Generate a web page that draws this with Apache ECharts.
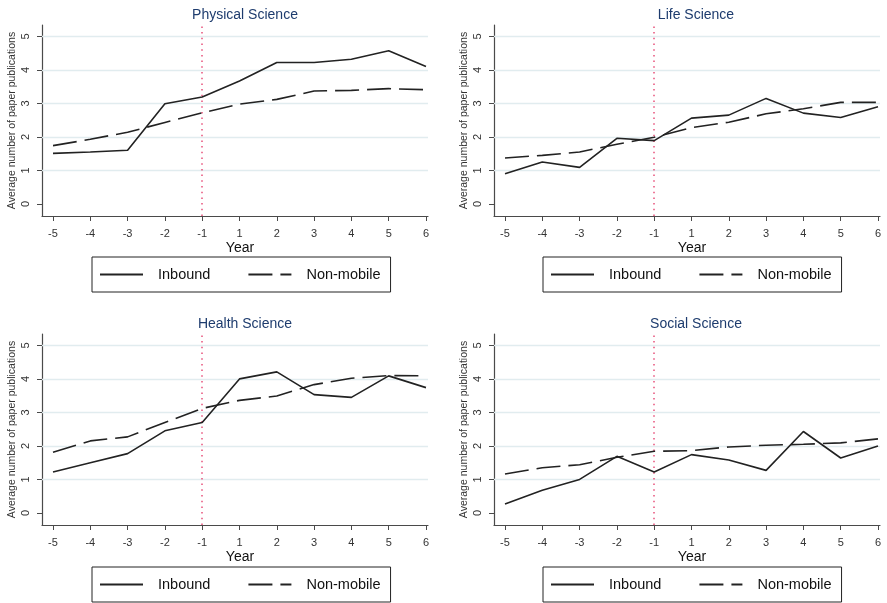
<!DOCTYPE html>
<html lang="en">
<head>
<meta charset="UTF-8">
<title>Average number of paper publications</title>
<script src="https://cdn.jsdelivr.net/npm/echarts@6/dist/echarts.min.js"></script>
<style>
    body {
        margin: 0;
        padding: 0;
        background: #fff;
    }
</style>
</head>
<body>
<div id="main" style="width: 887px;height: 603px"></div>
<script>
    // data
    var years = ['-5', '-4', '-3', '-2', '-1', '1', '2', '3', '4', '5', '6'];
    var yTicks = [0, 1, 2, 3, 4, 5];
    var panelTitles = ['Physical Science', 'Life Science', 'Health Science', 'Social Science'];

    var physInbound   = [1.51, 1.55, 1.60, 2.99, 3.19, 3.67, 4.22, 4.22, 4.32, 4.57, 4.10];
    var physNonMobile = [1.74, 1.93, 2.14, 2.43, 2.72, 2.98, 3.12, 3.37, 3.39, 3.44, 3.41];
    var lifeInbound   = [0.90, 1.25, 1.09, 1.96, 1.89, 2.56, 2.65, 3.15, 2.71, 2.58, 2.90];
    var lifeNonMobile = [1.37, 1.45, 1.55, 1.78, 1.99, 2.28, 2.44, 2.69, 2.84, 3.03, 3.03];
    var healthInbound   = [1.22, 1.50, 1.77, 2.45, 2.70, 4.00, 4.21, 3.53, 3.45, 4.09, 3.74];
    var healthNonMobile = [1.81, 2.15, 2.27, 2.70, 3.12, 3.36, 3.49, 3.83, 4.02, 4.10, 4.09];
    var socInbound   = [0.27, 0.68, 1.00, 1.69, 1.22, 1.74, 1.58, 1.27, 2.43, 1.64, 2.00];
    var socNonMobile = [1.16, 1.35, 1.44, 1.66, 1.84, 1.86, 1.97, 2.02, 2.05, 2.09, 2.21];

    var inbound = [physInbound, lifeInbound, healthInbound, socInbound];
    var nonMobile = [physNonMobile, lifeNonMobile, healthNonMobile, socNonMobile];
    var eventYear = '-1';

    var font = "'Liberation Sans', Arial, sans-serif";
    var pos = [
        {left: 42, top: 25, title: 240, titleTop: 3, legend: 92, legendTop: 257},
        {left: 494, top: 25, title: 691, titleTop: 3, legend: 543, legendTop: 257},
        {left: 42, top: 334, title: 240, titleTop: 312, legend: 92, legendTop: 567},
        {left: 494, top: 334, title: 691, titleTop: 312, legend: 543, legendTop: 567}
    ];

    function pairs(arr) {
        return arr.map(function (v, i) { return [i, v]; });
    }

    var option = {
        animation: false,
        backgroundColor: '#fff',
        textStyle: {fontFamily: font},
        title: [], grid: [], xAxis: [], yAxis: [], legend: [], series: []
    };

    var xIdx = years.map(function (y, i) { return i; });

    for (var p = 0; p < 4; p++) {
        var L = pos[p];
        option.title.push({
            text: panelTitles[p],
            left: L.title, top: L.titleTop, textAlign: 'center',
            textStyle: {fontFamily: font, fontSize: 14, fontWeight: 'normal', color: '#1e3c6e'}
        });
        option.grid.push({left: L.left, top: L.top, width: 386, height: 191});
        option.xAxis.push({
            type: 'value', gridIndex: p, min: -0.295, max: 10.054,
            name: 'Year', nameLocation: 'middle', nameGap: 25,
            nameTextStyle: {fontFamily: font, fontSize: 14, color: '#111', padding: [0, 0, 0, 10]},
            axisLine: {show: true, onZero: false, lineStyle: {color: '#4a4a4a', width: 1.2}},
            axisTick: {show: true, length: 5, customValues: xIdx, lineStyle: {color: '#4a4a4a'}},
            axisLabel: {
                customValues: xIdx, margin: 12, fontSize: 11, color: '#333', fontFamily: font,
                formatter: function (v) { return years[Math.round(v)]; }
            },
            splitLine: {show: false}
        });
        option.yAxis.push({
            type: 'value', gridIndex: p, min: -0.36, max: 5.34,
            name: 'Average number of paper publications', nameLocation: 'middle', nameGap: 24,
            nameTextStyle: {fontFamily: font, fontSize: 10.5, color: '#333'},
            axisLine: {show: true, onZero: false, lineStyle: {color: '#4a4a4a', width: 1.2}},
            axisTick: {show: true, length: 5, customValues: yTicks, lineStyle: {color: '#4a4a4a'}},
            axisLabel: {customValues: yTicks, rotate: 90, margin: 11, fontSize: 11, color: '#333', fontFamily: font},
            splitLine: {show: false}
        });
        option.legend.push({
            left: L.legend, top: L.legendTop,
            orient: 'horizontal', selectedMode: false,
            data: ['Inbound', 'Non-mobile'],
            itemWidth: 43, itemHeight: 14, itemGap: 37,
            padding: [10, 10, 10, 7],
            borderColor: '#222', borderWidth: 1,
            itemStyle: {opacity: 0},
            textStyle: {fontFamily: font, fontSize: 14.5, color: '#111', padding: [0, 0, 0, 10]}
        });
        option.series.push({
            name: 'Inbound', type: 'line', xAxisIndex: p, yAxisIndex: p,
            data: pairs(inbound[p]), symbol: 'none',
            lineStyle: {color: '#222', width: 1.6},
            itemStyle: {color: '#222'},
            markLine: {
                z: 1, silent: true, symbol: ['none', 'none'], label: {show: false},
                lineStyle: {color: '#e1ecef', width: 1.3, type: 'solid'},
                data: yTicks.slice(1).map(function (t) { return {yAxis: t}; })
            }
        });
        option.series.push({
            name: 'Non-mobile', type: 'line', xAxisIndex: p, yAxisIndex: p,
            data: pairs(nonMobile[p]), symbol: 'none',
            lineStyle: {color: '#222', width: 1.6, type: [24, 8]},
            itemStyle: {color: '#222'},
            markLine: {
                z: 3, silent: true, symbol: ['none', 'none'], label: {show: false},
                lineStyle: {color: '#e8507a', width: 1.5, type: [1.5, 4.2]},
                data: [{xAxis: years.indexOf(eventYear)}]
            }
        });
    }

    var chart = echarts.init(document.getElementById('main'));
    chart.setOption(option);
</script>
</body>
</html>
